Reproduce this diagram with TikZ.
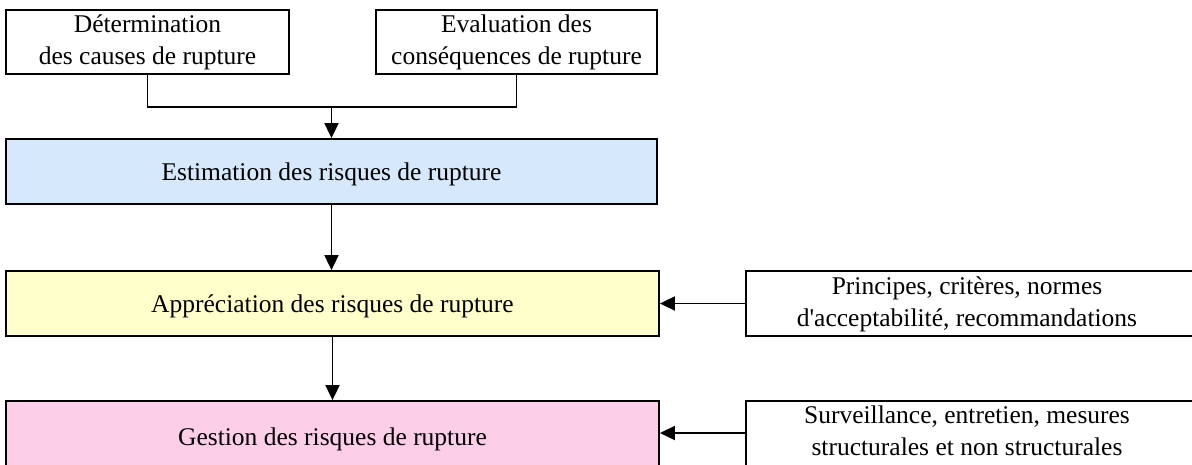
\documentclass[tikz,border=0pt]{standalone}
\usepackage{fontspec}
\setmainfont{Liberation Serif}
\usetikzlibrary{arrows.meta}
\definecolor{eblue}{RGB}{213,232,252}
\definecolor{ayellow}{RGB}{255,255,204}
\definecolor{gpink}{RGB}{252,206,232}
\tikzset{
  txt/.style={font=\fontsize{25.5}{32}\selectfont, align=center},
  box/.style={draw=black, line width=1.8pt, inner sep=0pt, txt},
  single/.style={text height=23.5pt, text depth=5.5pt},
  conn/.style={line width=1.8pt, -{Triangle[length=15pt,width=14pt]}},
  plain/.style={line width=1.8pt},
}
\begin{document}
\begin{tikzpicture}[x=1pt,y=-1pt]
\useasboundingbox (0,0) rectangle (1192,464);
\clip (0,0) rectangle (1192,464);
\node[box, minimum width=283pt, minimum height=64pt] (a) at (147.5,42) {Détermination\\des causes de rupture};
\node[box, minimum width=281pt, minimum height=64pt] (b) at (516.5,42) {Evaluation des\\conséquences de rupture};
\node[box, single, fill=eblue, minimum width=651pt, minimum height=65pt] (e) at (331.5,171.5) {Estimation des risques de rupture};
\node[box, single, fill=ayellow, minimum width=653pt, minimum height=65pt] (ap) at (332.5,303.5) {Appréciation des risques de rupture};
\node[box, single, fill=gpink, minimum width=653pt, minimum height=70pt] (g) at (332.5,436) {Gestion des risques de rupture};
\node[box, minimum width=455pt, minimum height=65pt, anchor=west] (p) at (745,303.5) {};
\node[box, minimum width=455pt, minimum height=70pt, anchor=west] (s) at (745,436) {};
\node[txt] (pt) at (967,304.5) {Principes, critères, normes\\d\textquotesingle acceptabilité, recommandations};
\node[txt] (st) at (967,431) {Surveillance, entretien, mesures\\structurales et non structurales};
\coordinate (j) at (331.5,107);
\draw[plain] (a.south) |- (j) -| (b.south);
\draw[conn] (j) -- (e.north);
\draw[conn] (e.south) -- (ap.north -| e.south);
\draw[conn] (ap.south) -- (g.north);
\draw[conn] (p.west) -- (ap.east);
\draw[conn] (s.west |- 0,433) -- (g.east |- 0,433);
\end{tikzpicture}
\end{document}
